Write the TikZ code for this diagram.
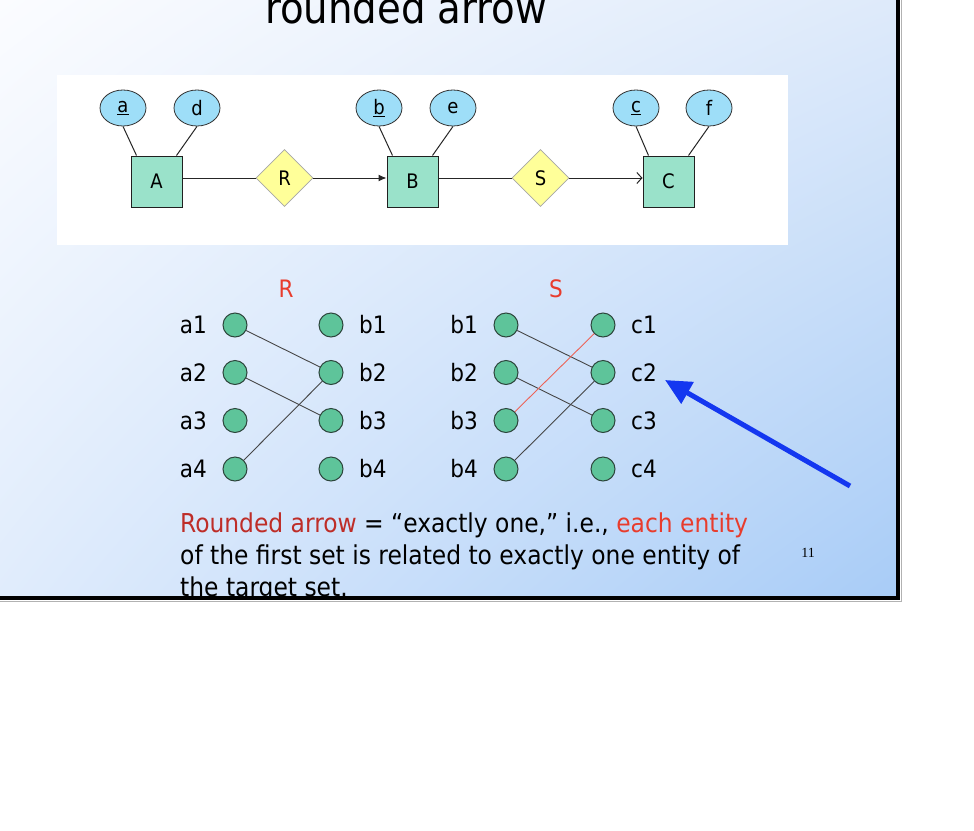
\documentclass[tikz,border=0pt]{standalone}
\usepackage{fontspec}
\setmainfont{DejaVu Sans Condensed}
\newfontfamily\pagenumfont{Liberation Serif}
\usetikzlibrary{shapes.geometric,arrows.meta,shadings}

\definecolor{slideTL}{RGB}{251,252,255}
\definecolor{slideTR}{RGB}{222,234,250}
\definecolor{slideBL}{RGB}{224,236,252}
\definecolor{slideBR}{RGB}{168,204,247}
\definecolor{entfill}{RGB}{154,226,202}
\definecolor{attrfill}{RGB}{158,222,248}
\definecolor{relfill}{RGB}{255,255,153}
\definecolor{dotfill}{RGB}{94,196,154}
\definecolor{dotedge}{RGB}{45,70,60}
\definecolor{setred}{RGB}{232,60,45}
\definecolor{darkred}{RGB}{190,45,40}
\definecolor{pointer}{RGB}{20,55,240}
\definecolor{linkgray}{RGB}{70,70,70}

\newcommand\erfont{\fontsize{20}{24}\selectfont}
\newcommand\setfont{\fontsize{24}{29}\selectfont}
\newcommand\captionfont{\fontsize{26}{32}\selectfont}

\begin{document}
\begin{tikzpicture}[x=1pt,y=-1pt,
  entity/.style={rectangle, draw=gray!25!black, fill=entfill, minimum size=51pt,
                 inner sep=0pt, line width=1pt, font=\erfont},
  attr/.style={ellipse, draw=gray!40!black, fill=attrfill, minimum width=46pt,
               minimum height=36pt, inner sep=0pt, line width=0.8pt, font=\erfont},
  rel/.style={diamond, draw=gray!70, fill=relfill, minimum width=57pt,
              minimum height=57pt, inner sep=0pt, line width=0.8pt, font=\erfont},
  erline/.style={draw=gray!30!black, line width=1pt},
  dot/.style={circle, draw=dotedge, fill=dotfill, minimum size=24pt, inner sep=0pt,
              line width=1pt},
  lbl/.style={font=\setfont, inner sep=2pt},
  link/.style={draw=linkgray, line width=0.9pt},
  redlink/.style={draw=setred!80, line width=0.9pt},
  setname/.style={font=\setfont, text=setred},
  capline/.style={anchor=base west, inner sep=0pt, font=\captionfont},
]
\useasboundingbox (0,0) rectangle (974,830);
\fill[white] (0,0) rectangle (974,830);

% slide background
\shade[upper left=slideTL, upper right=slideTR, lower left=slideBL, lower right=slideBR]
  (0,0) rectangle (898,598);

% title
\node[anchor=base, font=\fontsize{43}{50}\selectfont] (title) at (406,23) {rounded arrow};

% E/R diagram panel
\fill[white] (57,75) rectangle (788,245);

\node[entity] (A) at (156.5,181.5) {A};
\node[entity] (B) at (412.5,181.5) {B};
\node[entity] (C) at (668.5,181.5) {C};
\node[rel] (R) at (284.5,178) {R};
\node[rel] (S) at (540.5,178) {S};

\node[attr] (a) at (123,108) {\underline{a}};
\node[attr] (d) at (197,108) {d};
\node[attr] (b) at (379,108) {\underline{b}};
\node[attr] (e) at (453,108) {e};
\node[attr] (c) at (636,108) {\underline{c}};
\node[attr] (f) at (709,108) {f};

\draw[erline] (a.south) -- ([xshift=6pt]A.north west);
\draw[erline] (d.south) -- ([xshift=-6pt]A.north east);
\draw[erline] (b.south) -- ([xshift=6pt]B.north west);
\draw[erline] (e.south) -- ([xshift=-6pt]B.north east);
\draw[erline] (c.south) -- ([xshift=6pt]C.north west);
\draw[erline] (f.south) -- ([xshift=-6pt]C.north east);

\draw[erline] (A.east |- R.west) -- (R.west);
\draw[erline, -{Latex[length=8pt,width=7pt]}] (R.east) -- (B.west |- R.east);
\draw[erline] (B.east |- S.west) -- (S.west);
\draw[erline, -{Straight Barb[length=5pt,width=11pt]}] (S.east) -- (C.west |- S.east);

% relationship R as a set mapping
\node[setname] (Rname) at (286,289) {R};
\foreach \n/\y in {1/325,2/372.5,3/420.5,4/469}{
  \node[dot] (a\n) at (235,\y) {};
  \node[dot] (b\n) at (331,\y) {};
  \node[lbl, anchor=base east] (la\n) at (209,\y+8.5) {a\n};
  \node[lbl, anchor=base west] (lb\n) at (357,\y+8.5) {b\n};
}
\draw[link] (a1) -- (b2);
\draw[link] (a2) -- (b3);
\draw[link] (a4) -- (b2);

% relationship S as a set mapping
\node[setname] (Sname) at (556,289) {S};
\foreach \n/\y in {1/325,2/372.5,3/420.5,4/469}{
  \node[dot] (sb\n) at (506,\y) {};
  \node[dot] (c\n) at (603,\y) {};
  \node[lbl, anchor=base east] (lsb\n) at (480,\y+8.5) {b\n};
  \node[lbl, anchor=base west] (lc\n) at (629,\y+8.5) {c\n};
}
\draw[link] (sb1) -- (c2);
\draw[link] (sb2) -- (c3);
\draw[link] (sb4) -- (c2);
\draw[redlink] (sb3) -- (c1);

% pointer to c2
\coordinate (tail) at (850,486);
\coordinate (tip) at (665,380);
\draw[pointer, line width=5pt, -{Triangle[length=26pt,width=24pt]}] (tail) -- (tip);

% caption, cut off by the slide edge
\begin{scope}
  \clip (0,0) rectangle (898,597);
  \node[capline] (cap1) at (180,532)
    {\textcolor{darkred}{Rounded arrow} = “exactly one,” i.e., \textcolor{setred}{each entity}};
  \node[capline] (cap2) at (180,564) {of the first set is related to exactly one entity of};
  \node[capline] (cap3) at (180,596) {the target set.};
\end{scope}

\node[font=\pagenumfont\fontsize{14}{16}\selectfont] (pnum) at (808,553) {11};

% slide frame
\draw[gray!60, line width=1pt] (901,-2) -- (901,601) -- (-2,601);
\draw[black, line width=4pt] (898,-2) -- (898,598) -- (-2,598);
\end{tikzpicture}
\end{document}
